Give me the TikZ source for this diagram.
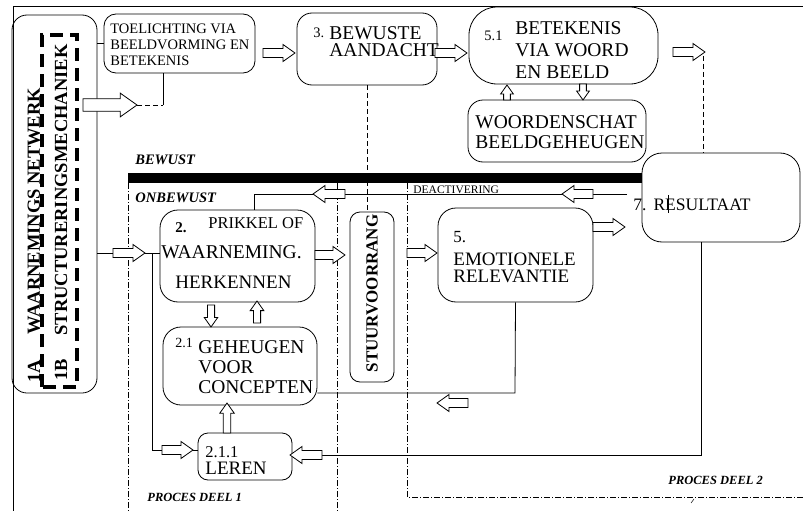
\documentclass[tikz,border=0pt]{standalone}
\usepackage{fontspec}
\setmainfont{Liberation Serif}
\usepackage{tikz}

% hollow block arrow: [size] x, y, angle, length
\newcommand\blkarrow[5][1]{%
  \draw[fill=white,shift={(#2,#3)},rotate=#4]
    (0,{-4.5*#1}) -- ({#5-12*#1},{-4.5*#1}) -- ({#5-12*#1},{-8.5*#1}) -- (#5,0)
    -- ({#5-12*#1},{8.5*#1}) -- ({#5-12*#1},{4.5*#1}) -- (0,{4.5*#1}) -- cycle;}

\begin{document}
\begin{tikzpicture}[x=1pt,y=-1pt,line width=0.8,
  box/.style={draw,rounded corners=15,inner sep=0},
  lbl/.style={inner sep=0,anchor=west},
  blk/.style={inner sep=0,align=left,anchor=north west},
  rot/.style={inner sep=0,rotate=90,font=\fontsize{18.5}{19}\bfseries},
  proc/.style={lbl,font=\fontsize{12.5}{14}\bfseries\itshape},
  dsh/.style={dash pattern=on 5pt off 3pt},
  dshdot/.style={dash pattern=on 6pt off 2pt on 1pt off 2pt}]
  \useasboundingbox (0,0) rectangle (803,511);
  \draw (13,511) -- (13,6) -- (803,6);

  % 1A / 1B
  \node[box,minimum width=85,minimum height=378] (perc) at (54.5,204) {};
  \draw[line width=3.5,dash pattern=on 13pt off 7pt] (42,387) rectangle (77,35);
  \node[rot] (netw) at (34,211) {WAARNEMINGS NETWERK};
  \node[rot] (n1a) at (34,371) {1A};
  \node[rot] (mech) at (61,190) {STRUCTURERINGSMECHANIEK};
  \node[rot] (n1b) at (61,370) {1B};

  % bewust
  \node[box,rounded corners=12,minimum width=151,minimum height=59] (toel) at (179.5,43.5) {};
  \node[blk,font=\fontsize{14.5}{16.3}\selectfont] (toelt) at (110,23) {TOELICHTING VIA\\BEELDVORMING EN\\BETEKENIS};
  \node[box,minimum width=140,minimum height=72] (bew) at (367,49) {};
  \node[lbl,font=\fontsize{14.5}{16}\selectfont] (bewn) at (313,33) {3.};
  \node[blk,font=\fontsize{19.5}{17.5}\selectfont] (bewt) at (329,26) {BEWUSTE\\AANDACHT};
  \node[box,rounded corners=28,minimum width=189,minimum height=77] (bet) at (563.5,45.5) {};
  \node[lbl,font=\fontsize{14.5}{16}\selectfont] (betn) at (484,35.5) {5.1};
  \node[blk,font=\fontsize{19.5}{22}\selectfont] (bett) at (515,21) {BETEKENIS\\VIA WOORD\\EN BEELD};
  \node[box,minimum width=178,minimum height=62] (woord) at (557,131) {};
  \node[blk,font=\fontsize{19.5}{20}\selectfont] (woordt) at (475,115) {WOORDENSCHAT\\BEELDGEHEUGEN};
  \node[box,rounded corners=20,minimum width=158,minimum height=89] (res) at (721,197.5) {};
  \node[lbl,font=\fontsize{17.5}{18}\selectfont] (rest) at (633,205) {7.\hspace{7pt}RESULTAAT};
  \draw (668,195) -- (668,213);

  % onbewust
  \node[box,rounded corners=18,minimum width=155,minimum height=92] (prik) at (237.5,256) {};
  \node[lbl,font=\fontsize{15}{16}\bfseries] (prikn) at (175,228) {2.};
  \node[lbl,font=\fontsize{16.5}{17}\selectfont] (prik1) at (208,223.5) {PRIKKEL OF};
  \node[lbl,font=\fontsize{19.5}{20}\selectfont] (prik2) at (161,252) {WAARNEMING.};
  \node[lbl,font=\fontsize{19}{20}\selectfont] (prik3) at (175,282) {HERKENNEN};
  \node[box,rounded corners=18,minimum width=154,minimum height=78] (geh) at (240,366) {};
  \node[lbl,font=\fontsize{14}{15}\selectfont] (gehn) at (175,342.5) {2.1};
  \node[blk,font=\fontsize{19.5}{20}\selectfont] (geht) at (198,340) {GEHEUGEN\\VOOR\\CONCEPTEN};
  \node[box,rounded corners=10,minimum width=44,minimum height=170] (stuur) at (372,297) {};
  \node[rot,font=\fontsize{17}{18}\bfseries] (stuurt) at (372,293.5) {STUURVOORRANG};
  \node[box,rounded corners=18,minimum width=155,minimum height=94] (emo) at (515.5,255) {};
  \node[lbl,font=\fontsize{17}{18}\selectfont] (emon) at (453,237.5) {5.};
  \node[blk,font=\fontsize{19}{16.5}\selectfont] (emot) at (453,253) {EMOTIONELE\\RELEVANTIE};
  \node[box,rounded corners=10,minimum width=94,minimum height=47] (leren) at (245,456.5) {};
  \node[lbl,font=\fontsize{16.5}{17}\selectfont] (lerenn) at (205,452.5) {2.1.1};
  \node[lbl,font=\fontsize{19}{20}\selectfont] (lerent) at (205,468.5) {LEREN};

  % labels
  \node[lbl,font=\fontsize{14.5}{15}\bfseries\itshape] (bewust) at (135,160) {BEWUST};
  \node[lbl,font=\fontsize{14.5}{15}\bfseries\itshape] (onbewust) at (135,198) {ONBEWUST};
  \node[lbl,font=\fontsize{11.5}{12}\selectfont] (deact) at (413,190) {DEACTIVERING};
  \node[proc] (deel1) at (147,497) {PROCES DEEL 1};
  \node[proc] (deel2) at (668,480) {PROCES DEEL 2};

  % border bewust / onbewust
  \fill (128,173) rectangle (642,183);
  \draw[dshdot] (128,183) -- (128,511);
  \draw[dshdot] (337,183) -- (337,511);
  \draw[dshdot] (407,183) -- (407,497) -- (803,497);
  \draw[line width=0.5] (691,503) -- (694,499);

  % connectors
  \draw (perc.east |- toel.west) -- (toel.west);
  \coordinate (tj) at (163,105);
  \draw[dsh] (137,105) -- (tj);
  \draw (tj) -- (tj |- toel.south);
  \coordinate (rt) at (703,56);
  \draw[dsh] (rt) -- (rt |- res.north);
  \draw[dsh] (bew.south) -- (bew.south |- stuur.north);
  \coordinate (dk) at (254,194);
  \draw (627,194) -- (dk) -- (dk |- prik.north);
  \coordinate (m0) at (97,253);
  \draw (m0) -- (m0 -| prik.west);
  \coordinate (m1) at (152,253);
  \coordinate (m2) at (152,450);
  \draw (m1) -- (m2) -- (m2 -| leren.west);
  \coordinate (e1) at (515,393);
  \draw (emo.south) -- (e1) -- (e1 -| geh.east);
  \coordinate (r1) at (701,455);
  \draw (res.south -| r1) -- (r1) -- (r1 -| leren.east);

  % block arrows
  \blkarrow[1.4]{83}{105}{0}{54}
  \blkarrow{263}{53}{0}{32}
  \blkarrow{435}{53}{0}{32}
  \blkarrow[0.75]{507}{100}{90}{15}
  \blkarrow[0.75]{583}{84}{-90}{16}
  \blkarrow{673}{52}{0}{32}
  \blkarrow{593}{194}{180}{31}
  \blkarrow{345}{194}{180}{32}
  \blkarrow{113}{253}{0}{32}
  \blkarrow{162}{450}{0}{31}
  \blkarrow[0.8]{211}{305}{-90}{22}
  \blkarrow[0.8]{257}{323}{90}{22}
  \blkarrow{315}{255}{0}{30}
  \blkarrow{407}{253}{0}{30}
  \blkarrow{593}{227}{0}{32}
  \blkarrow{468}{403}{180}{31}
  \blkarrow{322}{455}{180}{32}
  \blkarrow[0.85]{227}{433}{90}{30}
\end{tikzpicture}
\end{document}
